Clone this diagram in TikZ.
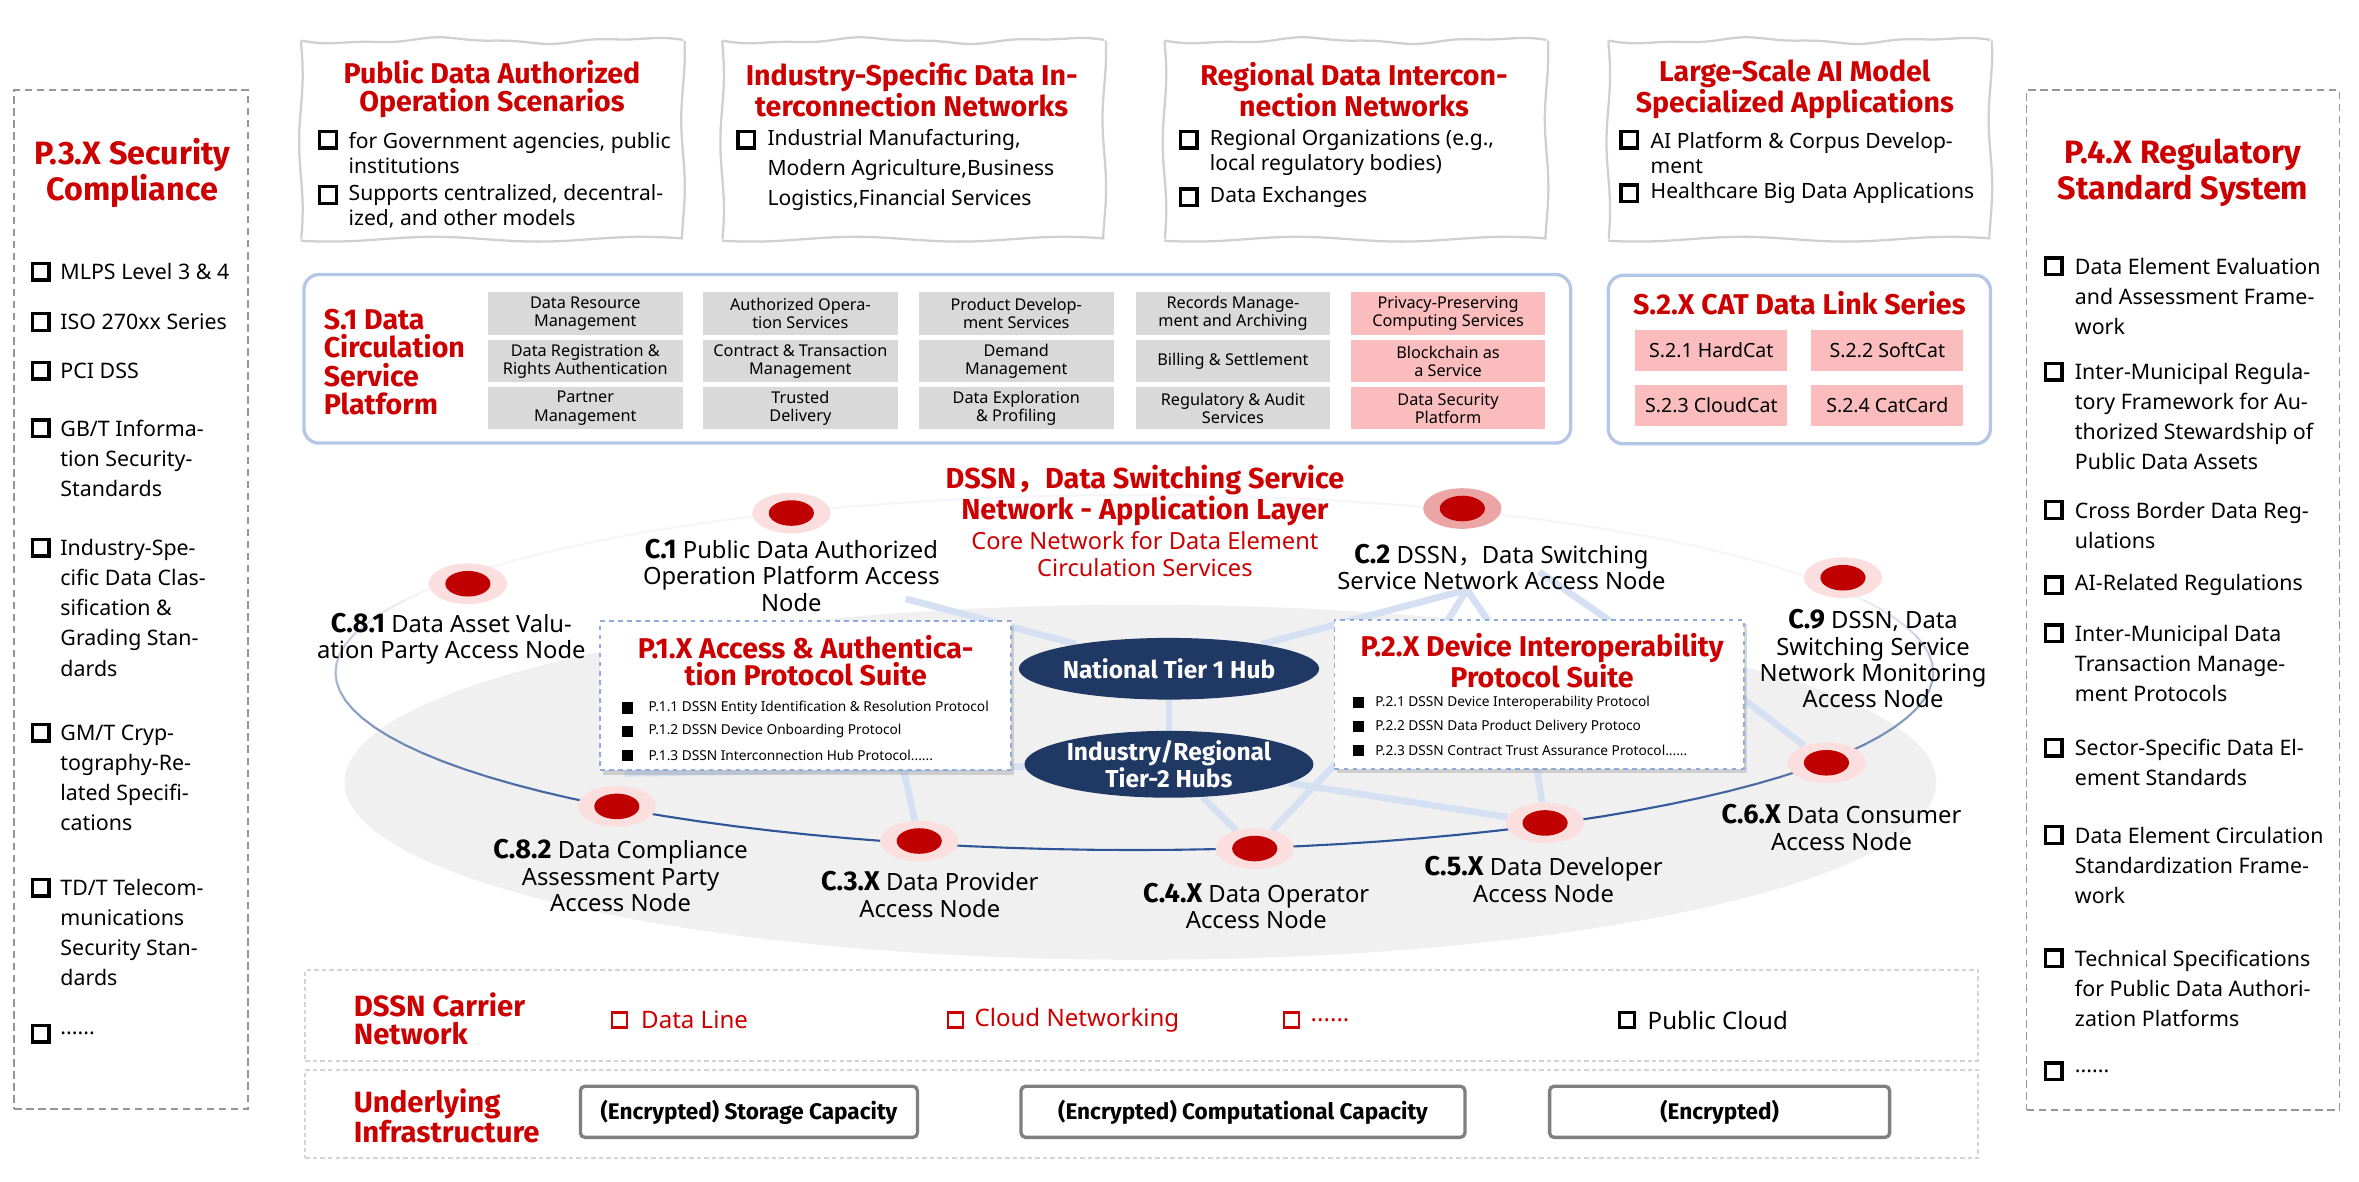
\documentclass[tikz,border=0pt]{standalone}
\usepackage{fontspec}
\setmainfont{Noto Sans}
\newfontfamily\hf{Fira Sans}
\newfontfamily\cjkf{Noto Sans CJK SC}
\usetikzlibrary{shapes.geometric,shadows}
\definecolor{tred}{RGB}{204,0,0}
\definecolor{dotred}{RGB}{192,0,0}
\definecolor{halo}{RGB}{251,222,222}
\definecolor{halotwo}{RGB}{236,165,165}
\definecolor{cellgray}{RGB}{217,217,217}
\definecolor{cellpink}{RGB}{250,188,188}
\definecolor{boxblue}{RGB}{180,199,231}
\definecolor{pdash}{RGB}{143,170,220}
\definecolor{navy}{RGB}{32,56,100}
\definecolor{ringblue}{RGB}{47,85,151}
\definecolor{meshblue}{RGB}{213,225,243}
\definecolor{bgell}{RGB}{240,240,240}
\definecolor{dashgray}{RGB}{150,150,150}
\definecolor{lightdash}{RGB}{212,212,212}
\definecolor{wavegray}{RGB}{208,208,208}
\definecolor{infragray}{RGB}{127,127,127}
\pgfdeclarelayer{back}
\pgfdeclarelayer{mesh}
\pgfsetlayers{back,mesh,main}
\newcommand\myid[1]{{\hf\bfseries\fontsize{18}{17.5}\selectfont #1}}
\newcommand\wavycard[4]{%
  \draw[wavyline] plot[smooth,domain=#1:#3,samples=30] (\x,{#2+1.6*sin((\x-#1)*2.8)+0.7*sin((\x-#1)*7)});
  \draw[wavyline] plot[smooth,domain=#1:#3,samples=30] (\x,{#4+1.6*sin((\x-#1)*2.6+40)});
  \draw[wavyline] plot[smooth,domain=#2:#4,samples=12] ({#1+1.2*sin((\x-#2)*4)},\x);
  \draw[wavyline] plot[smooth,domain=#2:#4,samples=12] ({#3+1.2*sin((\x-#2)*4+60)},\x);
}
\tikzset{
  sidetitle/.style={inner sep=0, align=center, text=tred, font=\hf\bfseries\fontsize{21.5}{24}\selectfont},
  sideitem/.style={inner sep=0, anchor=west, align=left, font=\fontsize{14.2}{20}\selectfont},
  hsq/.style={draw, line width=2.3, minimum size=11, inner sep=0},
  cardtitle/.style={inner sep=0, align=center, text=tred, font=\hf\bfseries\fontsize{19}{19}\selectfont},
  carditem/.style={inner sep=0, anchor=west, align=left, font=\fontsize{14}{16.5}\selectfont},
  wavyline/.style={draw=wavegray, line width=1.5},
  platbox/.style={draw=boxblue, line width=2.2, rounded corners=10, inner sep=0},
  cell/.style={fill=cellgray, minimum width=129.5, minimum height=28.3, inner sep=0, align=center, font=\fontsize{10.8}{12}\selectfont},
  pcell/.style={cell, fill=cellpink},
  catcell/.style={fill=cellpink, minimum width=101, minimum height=27, inner sep=0, font=\fontsize{13}{14}\selectfont},
  plattitle/.style={inner sep=0, anchor=west, align=left, text=tred, font=\hf\bfseries\fontsize{19}{18.8}\selectfont},
  midtitle/.style={inner sep=0, align=center, text=tred, font=\hf\bfseries\fontsize{19.2}{19}\selectfont},
  midsub/.style={inner sep=0, align=center, text=tred, font=\fontsize{15.7}{18}\selectfont},
  dotnode/.style={ellipse, fill=halo, minimum width=52, minimum height=27, inner sep=0,
    path picture={\fill[dotred] (path picture bounding box.center) ellipse [x radius=15, y radius=8.5];}},
  lbl/.style={inner sep=0, align=center, font=\fontsize{15.8}{17.5}\selectfont},
  hub/.style={ellipse, fill=navy, text=white, minimum width=165, minimum height=41, inner sep=0, align=center, font=\hf\bfseries\fontsize{16.3}{16}\selectfont},
  pbox/.style={draw=pdash, dashed, line width=1.2, fill=white, inner sep=0, drop shadow={opacity=0.3, shadow xshift=2pt, shadow yshift=-3pt, fill=gray}},
  ptitle/.style={inner sep=0, align=center, text=tred, font=\hf\bfseries\fontsize{19}{18}\selectfont},
  pitem/.style={inner sep=0, anchor=west, font=\fontsize{9.1}{10}\selectfont},
  fsq/.style={fill=black, minimum size=7.5, inner sep=0},
  meshline/.style={line width=4.5, draw=meshblue},
  layerbox/.style={draw=lightdash, dash pattern=on 3pt off 2pt, line width=1.3, inner sep=0},
  layertitle/.style={inner sep=0, anchor=west, align=left, text=tred, font=\hf\bfseries\fontsize{19.5}{18.6}\selectfont},
  layeritem/.style={inner sep=0, anchor=west, font=\fontsize{16}{17}\selectfont},
  rsq/.style={draw=tred, line width=1.5, minimum size=10, inner sep=0},
  ksq/.style={draw=black, line width=1.5, minimum size=10, inner sep=0},
  infrabox/.style={draw=infragray, line width=2.2, rounded corners=3, fill=white, minimum height=34, inner sep=0, font=\hf\bfseries\fontsize{15}{16}\selectfont},
  sidebox/.style={draw=dashgray, dash pattern=on 5pt off 3pt, line width=1.1, inner sep=0}
}
\begin{document}
\begin{tikzpicture}[x=1pt,y=-1pt]
\useasboundingbox (0,0) rectangle (1568,785);
\begin{pgfonlayer}{back}
\fill[white] (0,0) rectangle (1568,785);
\fill[bgell] (758,520) ellipse [x radius=529, y radius=118];
\end{pgfonlayer}

% ---------- left column ----------
\node[sidebox, minimum width=155.5, minimum height=677] (lbox) at (87.25,398.5) {};
\node[sidetitle] (ltitle) at (88,115) {P.3.X Security\\Compliance};
\node[hsq] (lb1) at (27,180.6) {};
\node[sideitem] (l1) at (40,180.6) {MLPS Level 3 \& 4};
\node[hsq] (lb2) at (27,214) {};
\node[sideitem] (l2) at (40,214) {ISO 270xx Series};
\node[hsq] (lb3) at (27,246.4) {};
\node[sideitem] (l3) at (40,246.4) {PCI DSS};
\node[hsq] (lb4) at (27,284.8) {};
\node[sideitem] (l4) at (40,304.6) {GB/T Informa-\\tion Security-\\Standards};
\node[hsq] (lb5) at (27,364) {};
\node[sideitem] (l5) at (40,404) {Industry-Spe-\\cific Data Clas-\\sification \&\\Grading Stan-\\dards};
\node[hsq] (lb6) at (27,487) {};
\node[sideitem] (l6) at (40,517) {GM/T Cryp-\\tography-Re-\\lated Specifi-\\cations};
\node[hsq] (lb7) at (27,590) {};
\node[sideitem] (l7) at (40,620) {TD/T Telecom-\\munications\\Security Stan-\\dards};
\node[hsq] (lb8) at (27,687) {};
\node[sideitem] (l8) at (40,687) {......};

% ---------- right column ----------
\node[sidebox, minimum width=208, minimum height=678] (rbox) at (1451,399) {};
\node[sidetitle] (rtitle) at (1451,115) {P.4.X Regulatory\\Standard System};
\node[hsq] (rb1) at (1365,177) {};
\node[sideitem] (r1) at (1379,197) {Data Element Evaluation\\and Assessment Frame-\\work};
\node[hsq] (rb2) at (1365,247) {};
\node[sideitem] (r2) at (1379,277) {Inter-Municipal Regula-\\tory Framework for Au-\\thorized Stewardship of\\Public Data Assets};
\node[hsq] (rb3) at (1365,339) {};
\node[sideitem] (r3) at (1379,349) {Cross Border Data Reg-\\ulations};
\node[hsq] (rb4) at (1365,389) {};
\node[sideitem] (r4) at (1379,389) {AI-Related Regulations};
\node[hsq] (rb5) at (1365,421) {};
\node[sideitem] (r5) at (1379,441) {Inter-Municipal Data\\Transaction Manage-\\ment Protocols};
\node[hsq] (rb6) at (1365,497) {};
\node[sideitem] (r6) at (1379,507) {Sector-Specific Data El-\\ement Standards};
\node[hsq] (rb7) at (1365,555) {};
\node[sideitem] (r7) at (1379,575) {Data Element Circulation\\Standardization Frame-\\work};
\node[hsq] (rb8) at (1365,637) {};
\node[sideitem] (r8) at (1379,657) {Technical Specifications\\for Public Data Authori-\\zation Platforms};
\node[hsq] (rb9) at (1365,712) {};
\node[sideitem] (r9) at (1379,712) {......};

% ---------- top cards ----------
\wavycard{200}{27}{454}{159}
\node[cardtitle] (k1t) at (327,59.3) {Public Data Authorized\\Operation Scenarios};
\node[hsq] (k1b1) at (218,93) {};
\node[carditem] (k1i1) at (231.6,101.5) {for Government agencies, public\\institutions};
\node[hsq] (k1b2) at (218,129.6) {};
\node[carditem] (k1i2) at (231.6,137.3) {Supports centralized, decentral-\\ized, and other models};

\wavycard{480}{27}{734}{159}
\node[cardtitle] (k2t) at (606,59.3) {Industry-Specific Data In-\\terconnection Networks};
\node[hsq] (k2b1) at (496,93) {};
\node[carditem, font=\fontsize{14}{20}\selectfont] (k2i1) at (510,113) {Industrial Manufacturing,\\Modern Agriculture,Business\\Logistics,Financial Services};

\wavycard{774}{27}{1028}{159}
\node[cardtitle] (k3t) at (900,59.3) {Regional Data Intercon-\\nection Networks};
\node[hsq] (k3b1) at (790,93) {};
\node[carditem] (k3i1) at (804,101.5) {Regional Organizations (e.g.,\\local regulatory bodies)};
\node[hsq] (k3b2) at (790,131) {};
\node[carditem] (k3i2) at (804,131) {Data Exchanges};

\wavycard{1069}{27}{1323}{159}
\node[cardtitle] (k4t) at (1193,59.3) {Large-Scale AI Model\\Specialized Applications};
\node[hsq] (k4b1) at (1083,93) {};
\node[carditem] (k4i1) at (1097,101.5) {AI Platform \& Corpus Develop-\\ment};
\node[hsq] (k4b2) at (1083,128.5) {};
\node[carditem] (k4i2) at (1097,128.5) {Healthcare Big Data Applications};

% ---------- S.1 platform ----------
\node[platbox, minimum width=842, minimum height=112] (s1) at (623,238.5) {};
\node[plattitle] (s1t) at (215,240.6) {S.1 Data\\Circulation\\Service\\Platform};
\node[cell] (a11) at (389,208.5) {Data Resource\\Management};
\node[cell] (a12) at (389,240) {Data Registration \&\\Rights Authentication};
\node[cell] (a13) at (389,271.3) {Partner\\Management};
\node[cell] (a21) at (532,208.5) {Authorized Opera-\\tion Services};
\node[cell] (a22) at (532,240) {Contract \& Transaction\\Management};
\node[cell] (a23) at (532,271.3) {Trusted\\Delivery};
\node[cell] (a31) at (675.5,208.5) {Product Develop-\\ment Services};
\node[cell] (a32) at (675.5,240) {Demand\\Management};
\node[cell] (a33) at (675.5,271.3) {Data Exploration\\\& Profiling};
\node[cell] (a41) at (819.5,208.5) {Records Manage-\\ment and Archiving};
\node[cell] (a42) at (819.5,240) {Billing \& Settlement};
\node[cell] (a43) at (819.5,271.3) {Regulatory \& Audit\\Services};
\node[pcell] (a51) at (962.5,208.5) {Privacy-Preserving\\Computing Services};
\node[pcell] (a52) at (962.5,240) {Blockchain as\\a Service};
\node[pcell] (a53) at (962.5,271.3) {Data Security\\Platform};

% ---------- S.2 ----------
\node[platbox, minimum width=254, minimum height=112] (s2) at (1196,239) {};
\node[cardtitle] (s2t) at (1196,201.7) {S.2.X CAT Data Link Series};
\node[catcell] (b1) at (1137.5,233) {S.2.1 HardCat};
\node[catcell] (b2) at (1254.5,233) {S.2.2 SoftCat};
\node[catcell] (b3) at (1137.5,269.5) {S.2.3 CloudCat};
\node[catcell] (b4) at (1254.5,269.5) {S.2.4 CatCard};

% ---------- middle title ----------
\node[midtitle] (mt) at (761,329.5) {DSSN{\cjkf ，}Data Switching Service\\Network - Application Layer};
\node[midsub] (ms) at (761,368.3) {Core Network for Data Element\\Circulation Services};

% ---------- hubs and dots ----------
\node[hub] (hub1) at (777,444.5) {National Tier 1 Hub};
\node[hub, minimum height=42] (hub2) at (777,508) {Industry/Regional\\Tier-2 Hubs};

\node[dotnode] (c81) at (311,388) {};
\node[dotnode] (c1) at (526,341) {};
\node[dotnode, fill=halotwo] (c2) at (972,338) {};
\node[dotnode] (c9) at (1225,384) {};
\node[dotnode] (c6) at (1214,507) {};
\node[dotnode] (c5) at (1027,547) {};
\node[dotnode] (c4) at (834,564) {};
\node[dotnode] (c3) at (611,559) {};
\node[dotnode] (c82) at (410,536) {};

\coordinate (m1) at (602,398);
\coordinate (m2) at (415,514);
\coordinate (m3) at (598,500);
\coordinate (m4) at (895,500);
\coordinate (m5) at (1020,500);
\coordinate (m6) at (1150,458);
\coordinate (m7) at (975,392);
\coordinate (m8) at (945,440);
\coordinate (m9) at (1008,440);
\coordinate (m10) at (1095,430);
\coordinate (m11) at (1023,380);

\begin{pgfonlayer}{mesh}
\draw[meshline] (hub1) -- (m1);
\draw[meshline] (hub1) -- (hub2);
\draw[meshline] (hub2) -- (m2);
\draw[meshline] (m3) -- (c3);
\draw[meshline] (hub2) -- (c4);
\draw[meshline] (hub2) -- (c5);
\draw[meshline] (c4) -- (m4);
\draw[meshline] (m5) -- (c5);
\draw[meshline] (m6) -- (c6);
\draw[meshline] (hub1) -- (m7);
\draw[meshline] (m7) -- (m8);
\draw[meshline] (m7) -- (m9);
\draw[meshline] (m11) -- (m10);
\foreach \t in {0,3,...,357}{
  \pgfmathsetmacro\k{max(5,min(100,40+75*sin(\t+1.5)))}
  \draw[line width=1.4, color=ringblue!\k!white, line cap=round]
    ({754+531*cos(\t)},{447+118*sin(\t)}) -- ({754+531*cos(\t+3)},{447+118*sin(\t+3)});
}
\end{pgfonlayer}

% ---------- node labels ----------
\node[lbl] (lc81) at (300,424.5) {\myid{C.8.1} Data Asset Valu-\\ation Party Access Node};
\node[lbl] (lc1) at (526,382.5) {\myid{C.1} Public Data Authorized\\Operation Platform Access\\Node};
\node[lbl] (lc2) at (998,377) {\myid{C.2} DSSN{\cjkf ，}Data Switching\\Service Network Access Node};
\node[lbl] (lc9) at (1245,438) {\myid{C.9} DSSN, Data\\Switching Service\\Network Monitoring\\Access Node};
\node[lbl] (lc6) at (1224,550) {\myid{C.6.X} Data Consumer\\Access Node};
\node[lbl] (lc5) at (1026,584.5) {\myid{C.5.X} Data Developer\\Access Node};
\node[lbl] (lc4) at (835,602.3) {\myid{C.4.X} Data Operator\\Access Node};
\node[lbl] (lc3) at (618,594.5) {\myid{C.3.X} Data Provider\\Access Node};
\node[lbl] (lc82) at (412.5,582) {\myid{C.8.2} Data Compliance\\Assessment Party\\Access Node};

% ---------- protocol boxes ----------
\node[pbox, minimum width=273, minimum height=99] (p1) at (535.5,462.5) {};
\node[ptitle] (p1t) at (535.5,439) {P.1.X Access \& Authentica-\\tion Protocol Suite};
\node[fsq] (p1b1) at (417,470.5) {};
\node[pitem] (p1i1) at (431,470.5) {P.1.1 DSSN Entity Identification \& Resolution Protocol};
\node[fsq] (p1b2) at (417,486) {};
\node[pitem] (p1i2) at (431,486) {P.1.2 DSSN Device Onboarding Protocol};
\node[fsq] (p1b3) at (417,502) {};
\node[pitem] (p1i3) at (431,502) {P.1.3 DSSN Interconnection Hub Protocol......};

\node[pbox, minimum width=272, minimum height=99] (p2) at (1023,461.5) {};
\node[ptitle] (p2t) at (1025,439) {P.2.X Device Interoperability\\Protocol Suite};
\node[fsq] (p2b1) at (903,467) {};
\node[pitem] (p2i1) at (914,467) {P.2.1 DSSN Device Interoperability Protocol};
\node[fsq] (p2b2) at (903,483) {};
\node[pitem] (p2i2) at (914,483) {P.2.2 DSSN Data Product Delivery Protoco};
\node[fsq] (p2b3) at (903,499) {};
\node[pitem] (p2i3) at (914,499) {P.2.3 DSSN Contract Trust Assurance Protocol......};

% ---------- carrier network ----------
\node[layerbox, minimum width=1112, minimum height=60] (carrier) at (759,675) {};
\node[layertitle] (cart) at (235,677.3) {DSSN Carrier\\Network};
\node[rsq] (cb1) at (412,678) {};
\node[layeritem, text=tred] (ci1) at (426,678) {Data Line};
\node[rsq] (cb2) at (635,678) {};
\node[layeritem, text=tred] (ci2) at (647.6,678) {Cloud Networking};
\node[rsq] (cb3) at (858.5,678) {};
\node[layeritem, text=tred] (ci3) at (871,678) {......};
\node[ksq] (cb4) at (1081.5,678) {};
\node[layeritem] (ci4) at (1095,678) {Public Cloud};

% ---------- infrastructure ----------
\node[layerbox, minimum width=1112, minimum height=59] (infra) at (759,740.5) {};
\node[layertitle] (inft) at (235,741.8) {Underlying\\Infrastructure};
\node[infrabox, minimum width=224] (f1) at (497.8,739) {(Encrypted) Storage Capacity};
\node[infrabox, minimum width=295] (f2) at (826.2,739) {(Encrypted) Computational Capacity};
\node[infrabox, minimum width=226] (f3) at (1143,739) {(Encrypted)};
\end{tikzpicture}
\end{document}
